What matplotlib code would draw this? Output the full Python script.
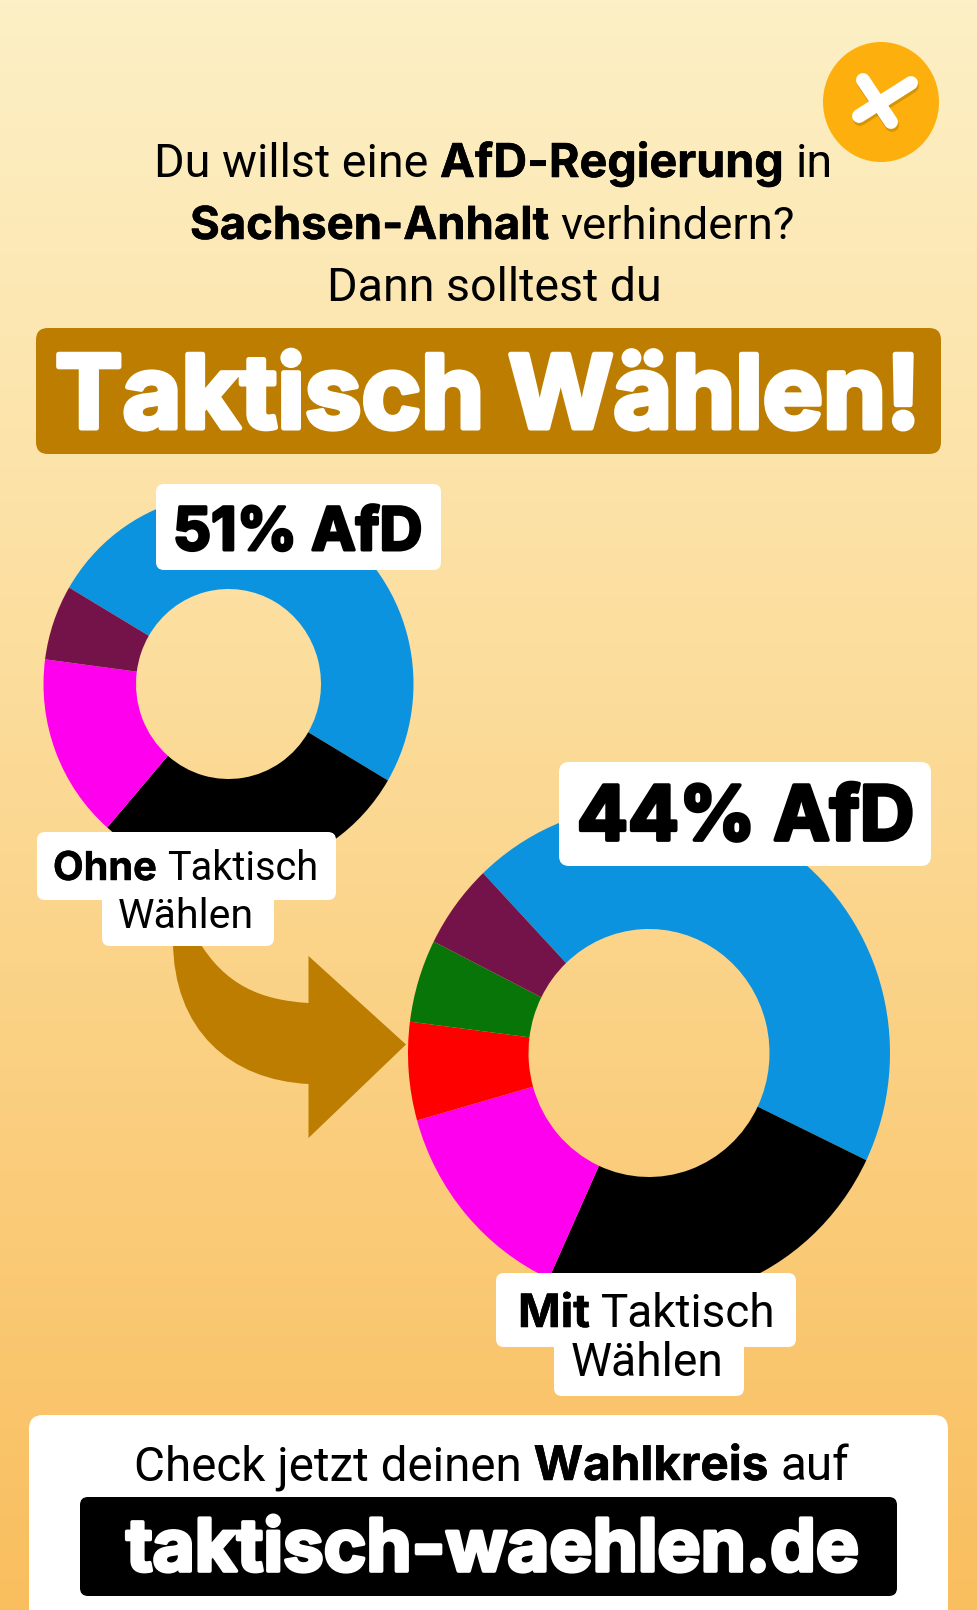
import numpy as np
from matplotlib import pyplot as plt
from matplotlib import patheffects as pe
from matplotlib.patches import FancyBboxPatch, Ellipse, PathPatch
from matplotlib.path import Path

WIDTH = 977
HEIGHT = 1610

# parties, same order in both rings, clockwise from the AfD slice
parties_ohne = ["AfD", "CDU", "Linke", "BSW"]
values_ohne = [50, 27.9, 15.7, 6.4]
colors_ohne = ["#0C93E0", "#000000", "#FF00EE", "#741349"]

parties_mit = ["AfD", "CDU", "Linke", "SPD", "Grüne", "BSW"]
values_mit = [44.2, 24.7, 13.8, 6.4, 5.4, 5.5]
colors_mit = ["#0C93E0", "#000000", "#FF00EE", "#FF0000", "#087508", "#741349"]

BROWN = "#BC7D00"
FONT_REGULAR = "Roboto"
FONT_BOLD = "Inter"

fig = plt.figure(figsize=(WIDTH / 100, HEIGHT / 100), dpi=100)


def pixel_axes(x0, y0, x1, y1, zorder):
	ax = fig.add_axes([x0 / WIDTH, 1 - y1 / HEIGHT, (x1 - x0) / WIDTH, (y1 - y0) / HEIGHT], zorder=zorder)
	return ax


#-----------------------------------------------------------------------
#	Background gradient
#-----------------------------------------------------------------------

bg = pixel_axes(0, 0, WIDTH, HEIGHT, 0)
top = np.array([253, 240, 198]) / 255
mid = np.array([252, 222, 158]) / 255
bottom = np.array([249, 190, 94]) / 255
t = np.linspace(0, 1, 400)[:, None]
grad = np.where(t < 0.4, top + (mid - top) * t / 0.4, mid + (bottom - mid) * (t - 0.4) / 0.6)
bg.imshow(grad[:, None, :], aspect="auto", extent=(0, WIDTH, HEIGHT, 0))
bg.axis("off")


#-----------------------------------------------------------------------
#	The two rings
#-----------------------------------------------------------------------

def donut(values, colors, start, cx, cy, rx, ry):
	ax = pixel_axes(cx - rx, cy - ry, cx + rx, cy + ry, 1)
	ax.pie(values, colors=colors, startangle=start, counterclock=False, radius=1,
		wedgeprops=dict(width=0.5, linewidth=0))
	ax.set_aspect("auto")
	ax.set_xlim(-1, 1)
	ax.set_ylim(-1, 1)
	ax.axis("off")


donut(values_ohne, colors_ohne, 149.5, 228.5, 684, 185, 190)
donut(values_mit, colors_mit, 133.5, 649, 1053, 241, 248)

#-----------------------------------------------------------------------
#	Everything else sits on one transparent axes in pixel coordinates
#-----------------------------------------------------------------------

ov = pixel_axes(0, 0, WIDTH, HEIGHT, 2)
ov.set_xlim(0, WIDTH)
ov.set_ylim(HEIGHT, 0)
ov.axis("off")
ov.patch.set_alpha(0)
renderer = fig.canvas.get_renderer()


def box(x0, y0, x1, y1, color, r):
	ov.add_patch(FancyBboxPatch((x0 + r, y0 + r), x1 - x0 - 2 * r, y1 - y0 - 2 * r,
		boxstyle="round,pad=%f,rounding_size=%f" % (r, r), fc=color, ec="none"))


def family(weight):
	return FONT_BOLD if weight == "bold" else FONT_REGULAR


def run_width(text, weight, size):
	tmp = ov.text(0, 0, text, fontsize=size, fontweight=weight, family=family(weight))
	w = tmp.get_window_extent(renderer).width
	tmp.remove()
	return w


def line(runs, x0, x1, base, color="black", heavy=0.012):
	# runs are (text, weight); the size is picked so the line fills x0..x1
	def total(size):
		space = run_width("n n", "normal", size) - run_width("nn", "normal", size)
		return sum(run_width(s, w, size) for s, w in runs) + space * (len(runs) - 1), space
	w40, _ = total(40)
	size = 40 * (x1 - x0) / w40
	_, space = total(size)
	x = x0
	for s, w in runs:
		txt = ov.text(x, base, s, fontsize=size, fontweight=w, family=family(w), color=color,
			ha="left", va="baseline")
		if w == "bold":
			txt.set_path_effects([pe.withStroke(linewidth=size * heavy, foreground=color)])
		x += run_width(s, w, size) + space


# arrow from the first ring to the second
arrow = Path([(173, 940), (173, 1030), (230, 1080), (308.5, 1084), (308.5, 1138), (406, 1044.5),
	(308.5, 956), (308.5, 1003), (260, 1000), (225, 985), (198, 940), (173, 940)],
	[Path.MOVETO, Path.CURVE4, Path.CURVE4, Path.CURVE4, Path.LINETO, Path.LINETO,
	Path.LINETO, Path.LINETO, Path.CURVE4, Path.CURVE4, Path.CURVE4, Path.CLOSEPOLY])
ov.add_patch(PathPatch(arrow, fc=BROWN, ec="none"))

# round button with the cross
ov.add_patch(Ellipse((881, 102), 116, 120, fc="#FDB00D", ec="none"))
cross = [((863, 80), (891, 122)), ((859, 116), (911, 83))]
for (xa, ya), (xb, yb) in cross:
	ov.plot([xa + 1, xb + 1], [ya + 3, yb + 3], color="#A87400", lw=10, alpha=0.45, solid_capstyle="round")
for (xa, ya), (xb, yb) in cross:
	ov.plot([xa, xb], [ya, yb], color="white", lw=10, solid_capstyle="round")

# headline
line([("Du willst eine", "normal"), ("AfD-Regierung", "bold"), ("in", "normal")], 154, 832, 177)
line([("Sachsen-Anhalt", "bold"), ("verhindern?", "normal")], 190, 795, 239)
line([("Dann solltest du", "normal")], 327, 661, 301)

box(36, 328, 941, 454, BROWN, 12)
line([("Taktisch Wählen!", "bold")], 55, 921, 428, "white", 0.05)

# ring labels
box(156, 484, 441, 570, "white", 8)
line([("51% AfD", "bold")], 173, 422, 550, "black", 0.05)
box(559, 762, 931, 866, "white", 10)
line([("44% AfD", "bold")], 577, 914, 840, "black", 0.05)

box(37, 832, 336, 900, "white", 8)
box(102, 880, 274, 946, "white", 8)
line([("Ohne", "bold"), ("Taktisch", "normal")], 53, 318, 880)
line([("Wählen", "normal")], 118, 254, 928)

box(496, 1273, 796, 1347, "white", 8)
box(554, 1330, 744, 1396, "white", 8)
line([("Mit", "bold"), ("Taktisch", "normal")], 518, 776, 1327)
line([("Wählen", "normal")], 571, 724, 1376)

# call to action at the bottom
box(29, 1415, 948, 1640, "white", 14)
line([("Check jetzt deinen", "normal"), ("Wahlkreis", "bold"), ("auf", "normal")], 134, 849, 1480)
box(80, 1497, 897, 1596, "black", 8)
line([("taktisch-waehlen.de", "bold")], 126, 860, 1571, "white", 0.05)

fig.savefig("out.png", dpi=100)
